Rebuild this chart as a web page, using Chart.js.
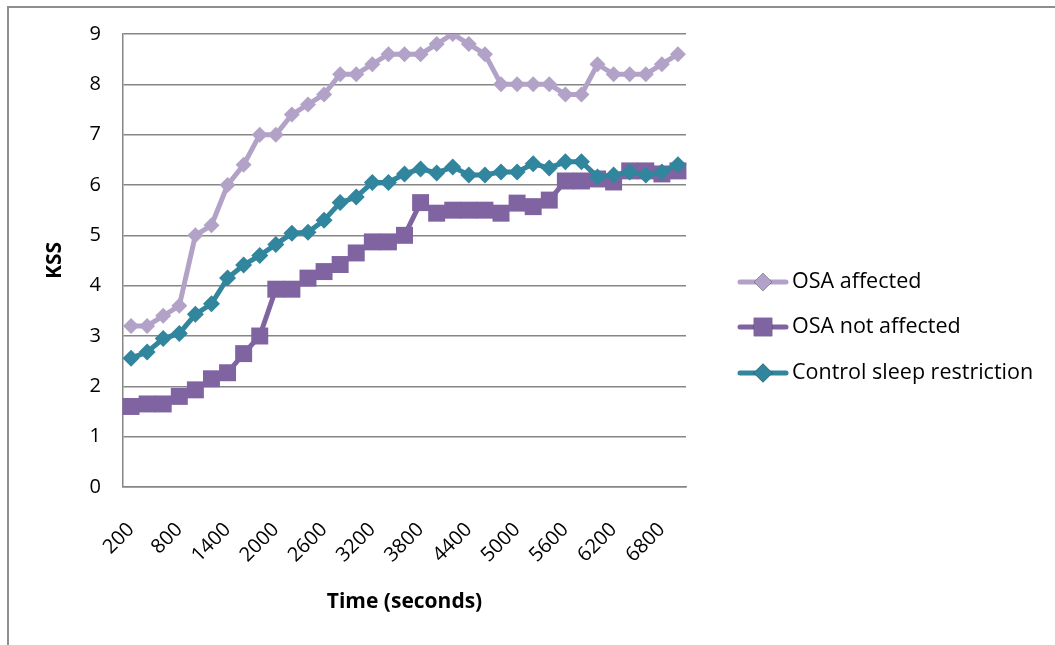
<!DOCTYPE html>
<html>
<head>
<meta charset="utf-8">
<script src="https://cdn.jsdelivr.net/npm/chart.js@4/dist/chart.umd.min.js"></script>
<style>
  body { margin: 0; background: #fff; }
  #wrap { position: relative; width: 1055px; height: 645px; }
</style>
</head>
<body>
<div id="wrap"><canvas id="kssChart" width="1055" height="645"></canvas></div>
<script>
// time in seconds
const timeLabels = ["200", "400", "600", "800", "1000", "1200", "1400", "1600", "1800", "2000",
  "2200", "2400", "2600", "2800", "3000", "3200", "3400", "3600", "3800", "4000",
  "4200", "4400", "4600", "4800", "5000", "5200", "5400", "5600", "5800", "6000",
  "6200", "6400", "6600", "6800", "7000"];

const osaAffected = [3.2, 3.2, 3.4, 3.6, 5.0, 5.2, 6.0, 6.4, 7.0, 7.0,
  7.4, 7.6, 7.8, 8.2, 8.2, 8.4, 8.6, 8.6, 8.6, 8.8,
  9.0, 8.8, 8.6, 8.0, 8.0, 8.0, 8.0, 7.8, 7.8, 8.4,
  8.2, 8.2, 8.2, 8.4, 8.6];

const osaNotAffected = [1.6, 1.65, 1.65, 1.8, 1.93, 2.15, 2.27, 2.65, 3.0, 3.93,
  3.93, 4.15, 4.28, 4.42, 4.65, 4.87, 4.87, 5.0, 5.65, 5.44,
  5.5, 5.5, 5.5, 5.44, 5.64, 5.57, 5.7, 6.08, 6.08, 6.12,
  6.06, 6.28, 6.28, 6.22, 6.28];

const controlRestriction = [2.56, 2.68, 2.95, 3.05, 3.43, 3.64, 4.15, 4.41, 4.6, 4.82,
  5.04, 5.06, 5.3, 5.65, 5.76, 6.05, 6.05, 6.22, 6.32, 6.24,
  6.36, 6.2, 6.2, 6.26, 6.26, 6.42, 6.34, 6.46, 6.46, 6.16,
  6.2, 6.26, 6.2, 6.26, 6.4];

const yTicks = [0, 1, 2, 3, 4, 5, 6, 7, 8, 9];

const FONT = "'Open Sans', 'Noto Sans', sans-serif";
const GRID = "#868686";

// outer frame (only top and left edge visible in the original)
const framePlugin = {
  id: "frame",
  beforeDraw(chart) {
    const ctx = chart.ctx;
    ctx.save();
    ctx.strokeStyle = "#8e8e8e";
    ctx.lineWidth = 2;
    ctx.beginPath();
    ctx.moveTo(1055, 7);
    ctx.lineTo(8, 7);
    ctx.lineTo(8, 645);
    ctx.stroke();
    ctx.restore();
  }
};

// excel style legend: short line with the marker in the middle
const lineLegend = {
  id: "lineLegend",
  afterDraw(chart) {
    const ctx = chart.ctx;
    const rows = [282, 327, 373];
    chart.data.datasets.forEach((ds, i) => {
      const y = rows[i];
      ctx.save();
      ctx.strokeStyle = ds.borderColor;
      ctx.lineWidth = 5;
      ctx.lineCap = "round";
      ctx.beginPath();
      ctx.moveTo(740, y);
      ctx.lineTo(786, y);
      ctx.stroke();
      Chart.helpers.drawPoint(ctx, {
        pointStyle: ds.pointStyle,
        radius: ds.pointRadius + 1,
        borderWidth: 0
      }, 763, y);
      ctx.fillStyle = ds.pointBackgroundColor;
      ctx.fill();
      ctx.fillStyle = "#000";
      ctx.font = "21.5px " + FONT;
      ctx.textBaseline = "middle";
      ctx.fillText(ds.label, 792, y);
      ctx.restore();
    });
  }
};

const ctx = document.getElementById("kssChart");
new Chart(ctx, {
  type: "line",
  data: {
    labels: timeLabels,
    datasets: [
      {
        label: "OSA affected",
        data: osaAffected,
        borderColor: "#B3A2C7",
        backgroundColor: "#B3A2C7",
        pointBackgroundColor: "#B3A2C7",
        pointBorderWidth: 0,
        borderWidth: 5,
        pointStyle: "rectRot",
        pointRadius: 8,
        order: 2
      },
      {
        label: "OSA not affected",
        data: osaNotAffected,
        borderColor: "#8064A2",
        backgroundColor: "#8064A2",
        pointBackgroundColor: "#8064A2",
        pointBorderWidth: 0,
        borderWidth: 5,
        pointStyle: "rect",
        pointRadius: 12,
        order: 1
      },
      {
        label: "Control sleep restriction",
        data: controlRestriction,
        borderColor: "#31859C",
        backgroundColor: "#31859C",
        pointBackgroundColor: "#31859C",
        pointBorderWidth: 0,
        borderWidth: 5,
        pointStyle: "rectRot",
        pointRadius: 8.5,
        order: 0
      }
    ]
  },
  options: {
    responsive: false,
    animation: false,
    layout: {
      padding: { top: 34, right: 369, left: 0, bottom: 0 }
    },
    scales: {
      x: {
        offset: true,
        grid: { display: false, drawTicks: false },
        border: { display: true, color: GRID, width: 1.5 },
        ticks: {
          autoSkip: false,
          maxRotation: 45,
          minRotation: 45,
          padding: 31,
          color: "#000",
          font: { family: FONT, size: 20 },
          callback: function (val, idx) {
            return idx % 3 === 0 ? this.getLabelForValue(val) : null;
          }
        },
        title: {
          display: true,
          text: "Time (seconds)",
          color: "#000",
          font: { family: FONT, size: 21, weight: "bold" },
          padding: { top: 0, bottom: 30 }
        },
        afterFit: (scale) => { scale.height = 158; }
      },
      y: {
        min: 0,
        max: 9,
        afterBuildTicks: (scale) => {
          scale.ticks = yTicks.map(v => ({ value: v }));
        },
        grid: { color: GRID, lineWidth: 1.5, drawTicks: false },
        border: { display: true, color: GRID, width: 1.5 },
        ticks: {
          padding: 22,
          color: "#000",
          font: { family: FONT, size: 20 }
        },
        title: {
          display: true,
          text: "KSS",
          color: "#000",
          font: { family: FONT, size: 21, weight: "bold" },
          padding: { top: 42, bottom: 0 }
        },
        afterFit: (scale) => { scale.width = 123; }
      }
    },
    plugins: {
      legend: { display: false },
      tooltip: { enabled: false }
    }
  },
  plugins: [framePlugin, lineLegend]
});
</script>
</body>
</html>
